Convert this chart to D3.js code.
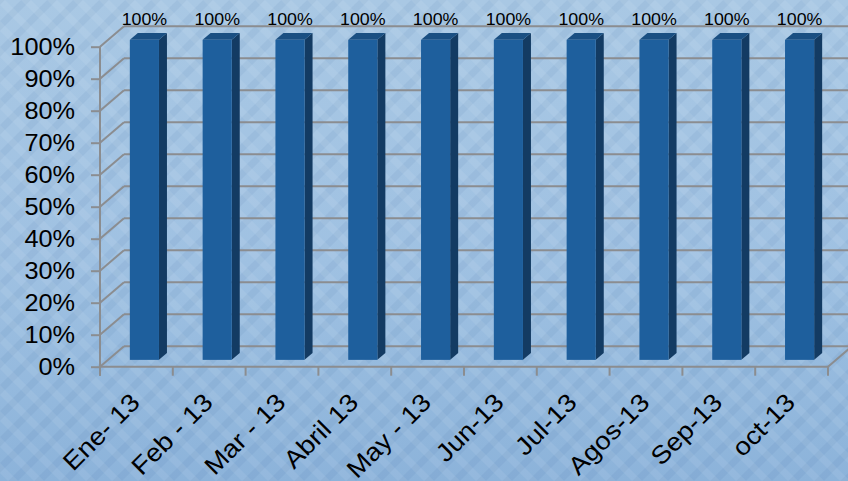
<!DOCTYPE html>
<html>
<head>
<meta charset="utf-8">
<script src="https://cdn.jsdelivr.net/npm/d3@7/dist/d3.min.js"></script>
<style>
  html, body { margin: 0; padding: 0; background: #9dc0e1; }
  svg { display: block; }
  text { font-family: "Liberation Sans", Arial, sans-serif; fill: #000; }
</style>
</head>
<body>
<svg id="chart" width="848" height="481"></svg>
<script>
// Monthly compliance, 2013
const categories = ["Ene- 13", "Feb - 13", "Mar - 13", "Abril 13", "May - 13",
                    "Jun-13", "Jul-13", "Agos-13", "Sep-13", "oct-13"];
const values = [1, 1, 1, 1, 1, 1, 1, 1, 1, 1];
const valueLabels = ["100%", "100%", "100%", "100%", "100%", "100%", "100%", "100%", "100%", "100%"];
const yTicks = [0, 0.1, 0.2, 0.3, 0.4, 0.5, 0.6, 0.7, 0.8, 0.9, 1];

const W = 848, H = 481;
const svg = d3.select("#chart");

// ---- background: soft gradient with a faint diagonal weave ----
const defs = svg.append("defs");
const grad = defs.append("linearGradient").attr("id", "bg")
  .attr("x1", 0).attr("y1", 0).attr("x2", 0).attr("y2", 1);
grad.append("stop").attr("offset", "0%").attr("stop-color", "#a9c8e4");
grad.append("stop").attr("offset", "55%").attr("stop-color", "#9fc1e2");
grad.append("stop").attr("offset", "100%").attr("stop-color", "#8cb3da");

const weave = defs.append("pattern").attr("id", "weave")
  .attr("width", 26).attr("height", 26)
  .attr("patternUnits", "userSpaceOnUse");
weave.append("path").attr("d", "M-6,6 L6,-6 M0,26 L26,0 M20,32 L32,20")
  .attr("stroke", "rgba(40,80,140,0.07)").attr("stroke-width", 7);
weave.append("path").attr("d", "M-6,20 L6,32 M0,0 L26,26 M20,-6 L32,6")
  .attr("stroke", "rgba(255,255,255,0.07)").attr("stroke-width", 7);

svg.append("rect").attr("width", W).attr("height", H).attr("fill", "url(#bg)");
svg.append("rect").attr("width", W).attr("height", H).attr("fill", "url(#weave)");

// ---- 3D frame geometry ----
const plotLeft = 100, plotRight = 828, plotTop = 46.7, plotBottom = 366.7;
const depth = { dx: 24, dy: -20.5 };   // front plane -> back wall

const x = d3.scaleBand().domain(categories).range([plotLeft, plotRight]).paddingInner(0).paddingOuter(0);
const y = d3.scaleLinear().domain([0, 1]).range([plotBottom, plotTop]);

const gridColor = "#8b8d90";
const grid = svg.append("g").attr("stroke", gridColor).attr("stroke-width", 2).attr("fill", "none");

// back wall gridlines
grid.selectAll("line.back").data(yTicks).join("line").attr("class", "back")
  .attr("x1", plotLeft + depth.dx).attr("x2", plotRight + depth.dx)
  .attr("y1", d => y(d) + depth.dy).attr("y2", d => y(d) + depth.dy);

// side wall diagonals
grid.selectAll("line.side").data(yTicks).join("line").attr("class", "side")
  .attr("x1", plotLeft).attr("x2", plotLeft + depth.dx)
  .attr("y1", d => y(d)).attr("y2", d => y(d) + depth.dy);

// floor: front edge and right diagonal
grid.append("line").attr("x1", plotLeft).attr("x2", plotRight).attr("y1", plotBottom).attr("y2", plotBottom);
grid.append("line").attr("x1", plotRight).attr("x2", plotRight + depth.dx)
  .attr("y1", plotBottom).attr("y2", plotBottom + depth.dy);

// category tick marks at band edges
const edges = categories.map(c => x(c)).concat([plotRight]);
grid.selectAll("line.xtick").data(edges).join("line").attr("class", "xtick")
  .attr("x1", d => d).attr("x2", d => d)
  .attr("y1", plotBottom).attr("y2", plotBottom + 9);

// ---- y axis ----
const yAxis = d3.axisLeft(y).tickValues(yTicks).tickFormat(d3.format(".0%"))
  .tickSize(9).tickPadding(16).tickSizeOuter(0);
const yg = svg.append("g").attr("transform", `translate(${plotLeft},0)`).call(yAxis);
yg.select(".domain").remove();
yg.selectAll(".tick line").attr("stroke", gridColor).attr("stroke-width", 2);
yg.selectAll(".tick text")
  .attr("font-size", 23)
  .attr("font-family", "'Liberation Sans', Arial, sans-serif")
  .attr("fill", "#000")
  .attr("x", -25 / 1.1)
  .attr("transform", "scale(1.1,1)");
// vertical front edge
svg.append("line").attr("x1", plotLeft).attr("x2", plotLeft).attr("y1", plotTop).attr("y2", plotBottom + 9)
  .attr("stroke", gridColor).attr("stroke-width", 2);

// ---- bars (occupy the middle third of the depth) ----
const f0 = 1 / 3, f1 = 2 / 3;
const bw = x.bandwidth() * 0.4;
const bx = d => x(d) + x.bandwidth() * 0.3 + depth.dx * f0;
const bdx = depth.dx * (f1 - f0), bdy = depth.dy * (f1 - f0);

const bars = svg.append("g").selectAll("g").data(categories.map((c, i) => ({ c, v: values[i], label: valueLabels[i] })))
  .join("g");

// side face
bars.append("path").attr("fill", "#133b63")
  .attr("d", d => {
    const x0 = bx(d.c) + bw, yt = y(d.v) + depth.dy * f0, yb = y(0) + depth.dy * f0;
    return `M${x0},${yt} L${x0 + bdx},${yt + bdy} L${x0 + bdx},${yb + bdy} L${x0},${yb} Z`;
  });
// top face
bars.append("path").attr("fill", "#1a4f82")
  .attr("d", d => {
    const x0 = bx(d.c), yt = y(d.v) + depth.dy * f0;
    return `M${x0},${yt} L${x0 + bdx},${yt + bdy} L${x0 + bw + bdx},${yt + bdy} L${x0 + bw},${yt} Z`;
  });
// front face
bars.append("rect").attr("fill", "#1e5f9d")
  .attr("x", d => bx(d.c)).attr("width", bw)
  .attr("y", d => y(d.v) + depth.dy * f0)
  .attr("height", d => y(0) - y(d.v));

// value labels
bars.append("text")
  .attr("text-anchor", "middle").attr("font-size", 16.5)
  .attr("transform", d => `translate(${bx(d.c) + bw / 2},${y(d.v) + depth.dy * f1 - 8}) scale(1.08,1)`)
  .text(d => d.label);

// ---- category labels, rotated ----
svg.append("g").selectAll("text").data(categories).join("text")
  .attr("text-anchor", "end").attr("font-size", 25)
  .attr("transform", d => `translate(${x(d) + x.bandwidth() / 2 + 5},404) rotate(-45) scale(1.1,1)`)
  .text(d => d);
</script>
</body>
</html>
